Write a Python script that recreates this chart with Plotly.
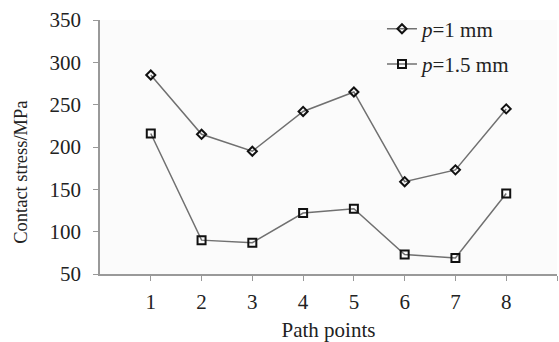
import plotly.graph_objects as go

points = [1, 2, 3, 4, 5, 6, 7, 8]
p1_values = [285, 215, 195, 242, 265, 159, 173, 245]
p15_values = [216, 90, 87, 122, 127, 73, 69, 145]
y_ticks = [50, 100, 150, 200, 250, 300, 350]
x_tickvals = [1, 2, 3, 4, 5, 6, 7, 8, 9]
x_ticktext = ["1", "2", "3", "4", "5", "6", "7", "8", ""]

font_family = "Liberation Serif, Times New Roman, serif"

fig = go.Figure()
fig.add_trace(go.Scatter(
    x=points, y=p1_values, mode="lines+markers", name="<i>p</i>=1 mm",
    legendgroup="a",
    line=dict(color="#707070", width=1.5),
    marker=dict(symbol="diamond-open", size=7, color="#111111", line=dict(width=2, color="#111111")),
))
fig.add_trace(go.Scatter(
    x=points, y=p15_values, mode="lines+markers", name="<i>p</i>=1.5 mm",
    legendgroup="b",
    line=dict(color="#707070", width=1.5),
    marker=dict(symbol="square-open", size=8, color="#111111", line=dict(width=2, color="#111111")),
))

fig.update_layout(
    width=559, height=342,
    margin=dict(l=100, r=2, t=20, b=68),
    paper_bgcolor="white",
    plot_bgcolor="#fbfbfb",
    font=dict(family=font_family, size=21, color="#222222"),
    showlegend=True,
    legend=dict(
        x=0.617, y=1.045, xanchor="left", yanchor="top",
        bgcolor="rgba(255,255,255,0)",
        font=dict(size=21, family=font_family),
        tracegroupgap=5,
        itemwidth=30,
    ),
    xaxis=dict(
        range=[0, 9], tickvals=x_tickvals, ticktext=x_ticktext,
        showgrid=False, zeroline=False,
        showline=True, linecolor="#999999", linewidth=1.5,
        ticks="outside", ticklen=5, tickcolor="#999999",
        ticklabelstandoff=3,
        title=dict(text="Path points", font=dict(size=21), standoff=9),
    ),
    yaxis=dict(
        range=[50, 350], tickvals=y_ticks,
        showgrid=False, zeroline=False,
        showline=True, linecolor="#999999", linewidth=1.5,
        ticks="outside", ticklen=5, tickcolor="#999999",
        ticklabelstandoff=8,
    ),
    annotations=[dict(
        text="Contact stress/MPa", xref="paper", yref="paper",
        x=-0.172, y=0.40, xanchor="center", yanchor="middle",
        textangle=-90, showarrow=False, font=dict(size=18.5, family=font_family),
    )],
)

fig.write_html("out.html")
